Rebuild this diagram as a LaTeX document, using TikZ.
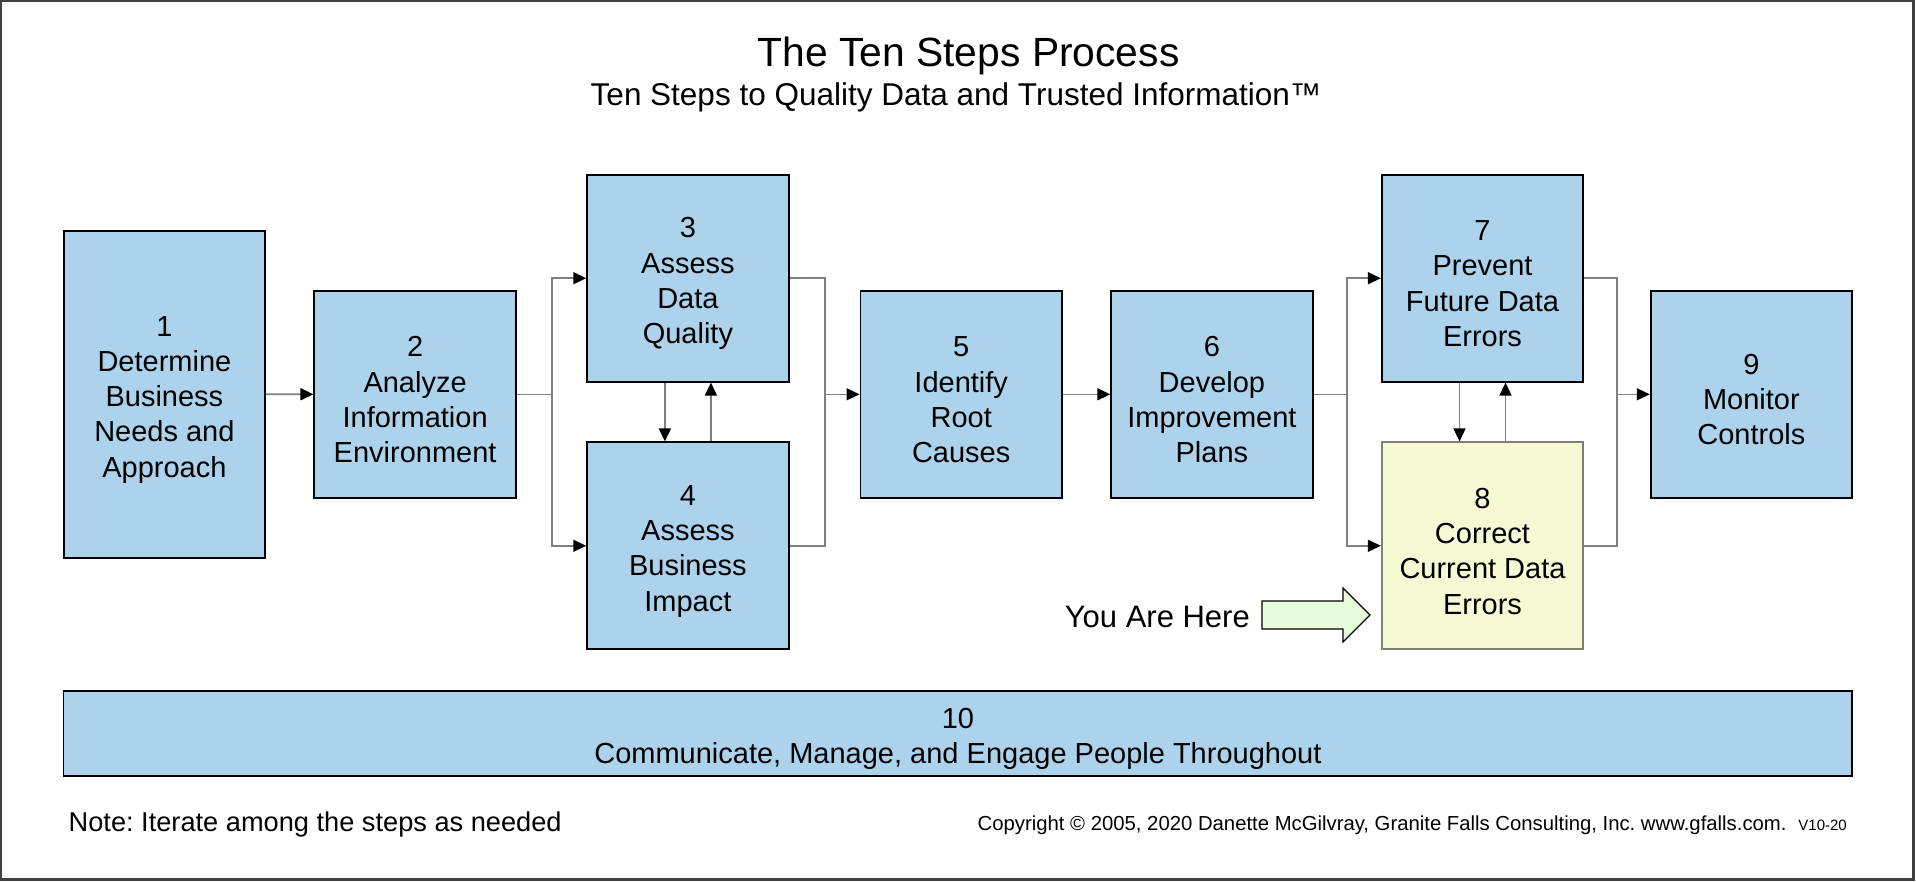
\documentclass[tikz,border=0pt]{standalone}
\usepackage{fontspec}
\setmainfont{Liberation Sans}
\frenchspacing
\usetikzlibrary{arrows.meta}
\definecolor{boxblue}{RGB}{173,211,236}
\definecolor{boxyellow}{RGB}{245,250,212}
\definecolor{yellowgray}{RGB}{128,128,118}
\definecolor{arrgreen}{RGB}{230,252,218}
\definecolor{conngray}{RGB}{128,128,128}
\definecolor{framegray}{RGB}{64,64,64}
\newcommand{\tstrut}{\rule{0pt}{31pt}}
\begin{document}
\begin{tikzpicture}[x=1pt,y=-1pt,
  stepbox/.style={draw=black, line width=1.8pt, fill=boxblue, minimum width=201.5pt, minimum height=207pt, inner sep=0pt, align=center, font=\fontsize{29}{35.3}\selectfont},
  herebox/.style={stepbox, fill=boxyellow, draw=yellowgray},
  conn/.style={draw=conngray, line width=1.6pt},
  arr/.style={conn, -{Triangle[length=13pt,width=12pt,color=black]}},
  txt/.style={inner sep=0pt}
]
\useasboundingbox (0,0) rectangle (1916,881);
\draw[framegray, line width=2.2pt] (1.2,1.2) rectangle (1913.5,879.5);

\node[txt, anchor=base west, font=\fontsize{40.8}{48}\selectfont] (title) at (757.5,66.7) {The Ten Steps Process};
\node[txt, anchor=base west, font=\fontsize{31.5}{38}\selectfont] (sub) at (590.5,105) {Ten Steps to Quality Data and Trusted Information™};

\node[stepbox, minimum height=327pt] (s1) at (164.4,394.2) {\tstrut 1\\Determine\\Business\\Needs and\\Approach};
\node[stepbox] (s2) at (415.1,394.3) {\tstrut 2\\Analyze\\Information\\Environment};
\node[stepbox] (s3) at (687.9,278.2) {\tstrut 3\\Assess\\Data\\Quality};
\node[stepbox] (s4) at (687.9,545.8) {\tstrut 4\\Assess\\Business\\Impact};
\node[stepbox] (s5) at (961.2,394.3) {\tstrut 5\\Identify\\Root\\Causes};
\node[stepbox] (s6) at (1211.9,394.3) {\tstrut 6\\Develop\\Improvement\\Plans};
\node[stepbox] (s7) at (1482.5,278.2) {\tstrut 7\\Prevent\\Future Data\\Errors};
\node[herebox] (s8) at (1482.5,545.8) {\tstrut 8\\Correct\\Current Data\\Errors};
\node[stepbox] (s9) at (1751.4,394.3) {\tstrut 9\\Monitor\\Controls};
\node[stepbox, minimum width=1788.8pt, minimum height=85pt] (s10) at (957.9,733.2) {\tstrut 10\\Communicate, Manage, and Engage People Throughout};

\coordinate (j2) at (551.7,394.3);
\coordinate (j5) at (824.9,394.3);
\coordinate (j6) at (1346.7,394.3);
\coordinate (j8) at (1616.7,394.3);

\draw[arr] (s1.east) -- (s2.west);
\draw[arr] (s2.east) -- (j2) |- (s3.west);
\draw[arr] (s2.east) -- (j2) |- (s4.west);
\draw[arr] ([xshift=-23pt]s3.south) -- ([xshift=-23pt]s4.north);
\draw[arr] ([xshift=23pt]s4.north) -- ([xshift=23pt]s3.south);
\draw[conn] (s3.east) -| (j5);
\draw[conn] (s4.east) -| (j5);
\draw[arr] (j5) -- (s5.west);
\draw[arr] (s5.east) -- (s6.west);
\draw[arr] (s6.east) -- (j6) |- (s7.west);
\draw[arr] (s6.east) -- (j6) |- (s8.west);
\draw[arr] ([xshift=-23pt]s7.south) -- ([xshift=-23pt]s8.north);
\draw[arr] ([xshift=23pt]s8.north) -- ([xshift=23pt]s7.south);
\draw[conn] (s7.east) -| (j8);
\draw[conn] (s8.east) -| (j8);
\draw[arr] (j8) -- (s9.west);

\node[txt, anchor=base east, font=\fontsize{31}{36}\selectfont] (here) at (1250,627) {You Are Here};
\draw[black, line width=1.2pt, fill=arrgreen, line join=miter]
  (1262,601) -- (1343,601) -- (1343,588) -- (1370,615) -- (1343,642) -- (1343,629) -- (1262,629) -- cycle;

\node[txt, anchor=base west, font=\fontsize{27.2}{32}\selectfont] (note) at (68.5,831) {Note: Iterate among the steps as needed};
\node[txt, anchor=base west, font=\fontsize{20.3}{24}\selectfont] (copy) at (977.5,830) {Copyright © 2005, 2020 Danette McGilvray, Granite Falls Consulting, Inc. www.gfalls.com.};
\node[txt, anchor=base east, font=\fontsize{15}{18}\selectfont] (ver) at (1847,830) {V10-20};
\end{tikzpicture}
\end{document}
